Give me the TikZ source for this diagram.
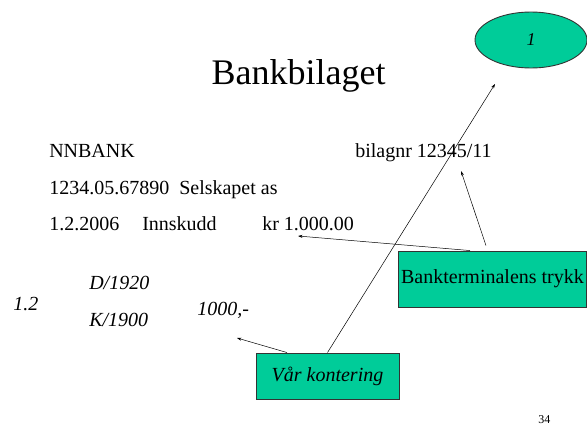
\documentclass[tikz,border=0pt]{standalone}
\usepackage{xcolor}
\usepackage{fontspec}
\setmainfont{Liberation Serif}
\usepackage{tikz}
\usetikzlibrary{shapes.geometric, arrows.meta}

\definecolor{boxgreen}{HTML}{00CC99}
\definecolor{boxline}{HTML}{333333}

\tikzset{
    txt/.style={inner sep=0pt, anchor=base west, font=\fontsize{20}{24}\selectfont},
    itxt/.style={txt, font=\fontsize{20}{24}\selectfont\itshape},
    greenbox/.style={draw=boxline, fill=boxgreen, line width=0.9pt, inner sep=2pt,
        font=\fontsize{20}{24}\selectfont},
    >={Stealth[length=4.5pt, width=3pt]},
}

\begin{document}
\begin{tikzpicture}[x=1pt, y=-1pt, line width=0.5pt]
    \useasboundingbox (0, 0) rectangle (587, 439);

    \node[inner sep=0pt, anchor=base, font=\fontsize{36}{40}\selectfont] at (298.5, 84) (title) {Bankbilaget};
    \node[draw=boxline, fill=boxgreen, ellipse, line width=0.9pt, minimum width=112, minimum height=56,
        font=\fontsize{18}{20}\selectfont\itshape] at (531, 40) (one) {1};

    % bilaget
    \node[txt] at (49, 157) (bank) {NNBANK};
    \node[txt] at (355, 157) (bilagnr) {bilagnr 12345/11};
    \node[txt] at (49, 194) (konto) {1234.05.67890\ \ Selskapet as};
    \node[txt] at (49, 230) (dato) {1.2.2006};
    \node[txt] at (142, 230) (innskudd) {Innskudd};
    \node[txt] at (262, 230) (belop) {kr 1.000.00};

    % kontering
    \node[itxt] at (13, 310) (dag) {1.2};
    \node[itxt] at (89, 289) (debet) {D/1920};
    \node[itxt] at (89, 326) (kredit) {K/1900};
    \node[itxt] at (197, 315) (sum) {1000,-};

    \node[greenbox, minimum width=188, minimum height=56] at (492.5, 279) (trykk) {Bankterminalens trykk};
    \node[greenbox, minimum width=143, minimum height=46, font=\fontsize{20}{24}\selectfont\itshape] at (327.5, 376) (kontering) {Vår kontering};

    \node[inner sep=0pt, anchor=base west, font=\fontsize{12}{14}\selectfont] at (538, 423) (side) {34};

    \coordinate (pBelop) at (298, 236);
    \coordinate (pBilag) at (461, 171);
    \coordinate (pEn) at (495, 84);
    \coordinate (pSum) at (237, 338);

    \draw[->] ([xshift=-22.5pt]trykk.north) -- (pBelop);
    \draw[->] ([xshift=-6.5pt, yshift=5pt]trykk.north) -- (pBilag);
    \draw[->] (kontering.north) -- (pEn);
    \draw[->] ([xshift=-40.5pt]kontering.north) -- (pSum);
\end{tikzpicture}
\end{document}
